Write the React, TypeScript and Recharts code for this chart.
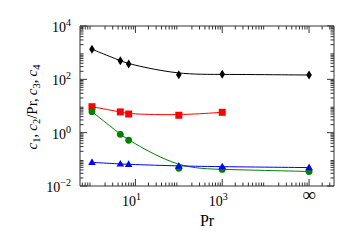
import { Line, LineChart, XAxis, YAxis } from "recharts";

const prandtl = [1, 4.5, 7, 100, 1000, 100000];
const c1 = [1340, 500, 376, 150, 155, 145];
const c2OverPr = [9.4, 6.0, 5.0, 4.5, 5.8];
const c3 = [6.1, 0.87, 0.52, 0.046, 0.042, 0.035];
const c4 = [0.077, 0.067, 0.065, 0.056, 0.053, 0.049];

const xMajorTicks = [10, 1000, 100000];
const xTickLabels = [["10", "1"], ["10", "3"], ["\u221e", ""]];
const yMajorTicks = [0.01, 1, 100, 10000];
const yTickLabels = [["10", "\u22122"], ["10", "0"], ["10", "2"], ["10", "4"]];
const minorSubs = [2, 3, 4, 5, 6, 7, 8, 9];
const xDecades = [0.1, 1, 10, 100, 1000, 10000, 100000];
const yDecades = [0.01, 0.1, 1, 10, 100, 1000];

const xDomain = [0.53, 375000];
const yDomain = [0.01, 10000];

const font = "'Liberation Serif', 'Times New Roman', serif";
const axisColor = "#333";

function minorTicks(decades: number[], domain: number[]) {
  return decades
    .flatMap((d) => minorSubs.map((s) => s * d))
    .filter((v) => v > domain[0] && v < domain[1]);
}

const xTicks = [...xMajorTicks, ...minorTicks(xDecades, xDomain)].sort((a, b) => a - b);
const yTicks = [...yMajorTicks, ...minorTicks(yDecades, yDomain)].sort((a, b) => a - b);

const rows = (values: number[]) => values.map((v, i) => ({ pr: prandtl[i], v }));

// ticks point inward, majors longer; labels only on bottom/left
function AxisTick(props: any) {
  const { x, y, payload, side } = props;
  const horizontal = side === "bottom" || side === "top";
  const majorIndex = (horizontal ? xMajorTicks : yMajorTicks).indexOf(payload.value);
  const len = majorIndex >= 0 ? 7 : 3.5;
  const dir = side === "bottom" || side === "right" ? -1 : 1;
  return (
    <g>
      {horizontal ? (
        <line x1={x} x2={x} y1={y} y2={y + dir * len} stroke={axisColor} />
      ) : (
        <line x1={x} x2={x + dir * len} y1={y} y2={y} stroke={axisColor} />
      )}
      {side === "bottom" && majorIndex >= 0 && (
        xTickLabels[majorIndex][1] ? (
          <text x={x - 4} y={y + 20} textAnchor="middle" fontFamily={font} fontSize={14} fill="#000">
            {xTickLabels[majorIndex][0]}
            <tspan dy={-6} fontSize={10}>{xTickLabels[majorIndex][1]}</tspan>
          </text>
        ) : (
          <text x={x} y={y + 15} textAnchor="middle" fontFamily={font} fontSize={19} fill="#000">
            {xTickLabels[majorIndex][0]}
          </text>
        )
      )}
      {side === "left" && majorIndex >= 0 && (
        <text x={x - 9} y={y + 6} textAnchor="end" fontFamily={font} fontSize={14} fill="#000">
          {yTickLabels[majorIndex][0]}
          <tspan dy={-6} fontSize={10}>{yTickLabels[majorIndex][1]}</tspan>
        </text>
      )}
    </g>
  );
}

function yTitle(props: any) {
  const vb = props.viewBox;
  const cx = vb.x + 37;
  const cy = vb.y + vb.height / 2 + 1;
  const sub = (s: string) => (
    <>
      <tspan fontStyle="italic">c</tspan>
      <tspan fontSize={10.5} dy={3}>{s}</tspan>
    </>
  );
  return (
    <text x={cx} y={cy} transform={`rotate(-90, ${cx}, ${cy})`} textAnchor="middle" fontFamily={font} fontSize={15} fill="#000">
      {sub("1")}
      <tspan dy={-3}>,{"\u2009"}</tspan>
      {sub("2")}
      <tspan dy={-3}>/Pr,{"\u2009"}</tspan>
      {sub("3")}
      <tspan dy={-3}>,{"\u2009"}</tspan>
      {sub("4")}
    </text>
  );
}

function xTitle(props: any) {
  const vb = props.viewBox;
  return (
    <text x={vb.x + vb.width / 2} y={vb.y + 40} textAnchor="middle" fontFamily={font} fontSize={16} fill="#000">
      Pr
    </text>
  );
}

const diamond = (p: any) => (
  <polygon
    key={`d${p.index}`}
    points={`${p.cx},${p.cy - 4.5} ${p.cx + 2.8},${p.cy} ${p.cx},${p.cy + 4.5} ${p.cx - 2.8},${p.cy}`}
    fill="#000"
  />
);
const square = (p: any) => <rect key={`s${p.index}`} x={p.cx - 3.5} y={p.cy - 3.5} width={7} height={7} fill="#ff0000" />;
const circle = (p: any) => <circle key={`c${p.index}`} cx={p.cx} cy={p.cy} r={3.4} fill="#008000" />;
const triangle = (p: any) => (
  <polygon
    key={`t${p.index}`}
    points={`${p.cx},${p.cy - 4} ${p.cx + 3.8},${p.cy + 2.6} ${p.cx - 3.8},${p.cy + 2.6}`}
    fill="#0000ff"
  />
);

export default function App() {
  return (
    <div style={{ position: "absolute", left: 0, top: 0 }}>
      <LineChart width={350} height={250} margin={{ top: 25, right: 15, bottom: 0, left: 0 }}>
        <XAxis
          xAxisId="top"
          orientation="top"
          dataKey="pr"
          type="number"
          scale="log"
          domain={xDomain}
          allowDataOverflow
          ticks={xTicks}
          interval={0}
          height={1}
          tickSize={0}
          tickMargin={0}
          tickLine={false}
          stroke={axisColor}
          tick={<AxisTick side="top" />}
        />
        <XAxis
          xAxisId="x"
          dataKey="pr"
          type="number"
          scale="log"
          domain={xDomain}
          allowDataOverflow
          ticks={xTicks}
          interval={0}
          height={64}
          tickSize={0}
          tickMargin={0}
          tickLine={false}
          stroke={axisColor}
          tick={<AxisTick side="bottom" />}
          label={xTitle}
        />
        <YAxis
          yAxisId="y"
          type="number"
          scale="log"
          domain={yDomain}
          allowDataOverflow
          ticks={yTicks}
          interval={0}
          width={80}
          tickSize={0}
          tickMargin={0}
          tickLine={false}
          stroke={axisColor}
          tick={<AxisTick side="left" />}
          label={yTitle}
        />
        <YAxis
          yAxisId="right"
          orientation="right"
          type="number"
          scale="log"
          domain={yDomain}
          allowDataOverflow
          ticks={yTicks}
          interval={0}
          width={1}
          tickSize={0}
          tickMargin={0}
          tickLine={false}
          stroke={axisColor}
          tick={<AxisTick side="right" />}
        />
        <Line data={rows(c1)} dataKey="v" xAxisId="x" yAxisId="y" type="basis" stroke="#000" strokeWidth={1} dot={diamond} activeDot={false} isAnimationActive={false} />
        <Line data={rows(c2OverPr)} dataKey="v" xAxisId="x" yAxisId="y" type="basis" stroke="#ff0000" strokeWidth={1} dot={square} activeDot={false} isAnimationActive={false} />
        <Line data={rows(c3)} dataKey="v" xAxisId="x" yAxisId="y" type="basis" stroke="#008000" strokeWidth={1} dot={circle} activeDot={false} isAnimationActive={false} />
        <Line data={rows(c4)} dataKey="v" xAxisId="x" yAxisId="y" type="basis" stroke="#0000ff" strokeWidth={1} dot={triangle} activeDot={false} isAnimationActive={false} />
      </LineChart>
    </div>
  );
}
